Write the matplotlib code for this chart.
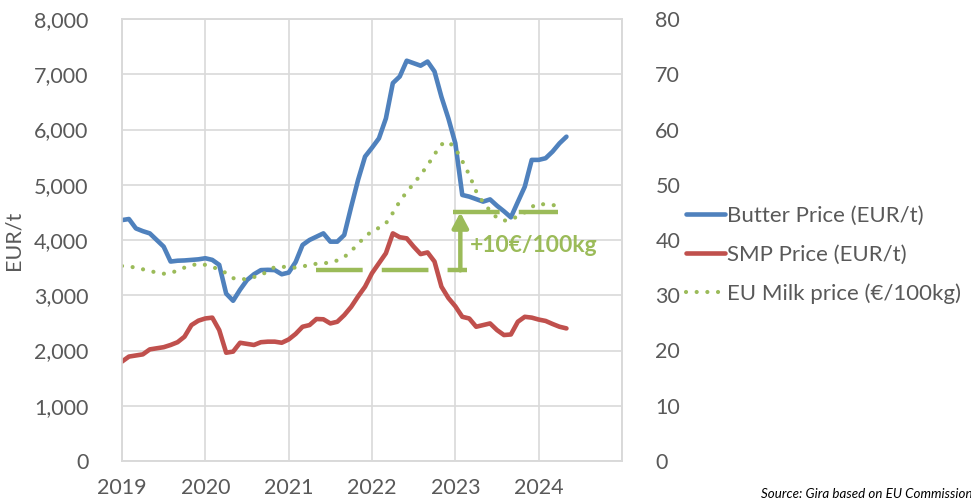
import matplotlib
matplotlib.use("Agg")
import matplotlib.pyplot as plt
import numpy as np

# ---- data (monthly, Jan 2019 onwards) ----
butter = [4360, 4380, 4210, 4160, 4120, 4000, 3880, 3610, 3625, 3630, 3640, 3650,
          3670, 3640, 3550, 3030, 2900, 3100, 3275, 3380, 3455, 3460, 3455, 3380,
          3410, 3600, 3910, 4000, 4060, 4120, 3970, 3970, 4090, 4600, 5090, 5510,
          5670, 5840, 6200, 6840, 6960, 7245, 7200, 7155, 7230, 7050, 6590, 6200,
          5750, 4815, 4785, 4740, 4695, 4735, 4620, 4520, 4410, 4690, 4965, 5450,
          5450, 5480, 5600, 5750, 5870]
smp = [1800, 1890, 1910, 1930, 2020, 2040, 2060, 2100, 2150, 2250, 2460, 2540,
       2580, 2595, 2370, 1960, 1980, 2140, 2120, 2100, 2150, 2160, 2160, 2140,
       2200, 2300, 2430, 2460, 2570, 2565, 2490, 2520, 2640, 2790, 2980, 3155,
       3400, 3580, 3760, 4120, 4050, 4030, 3880, 3745, 3775, 3610, 3155, 2950,
       2800, 2610, 2580, 2430, 2460, 2490, 2370, 2280, 2290, 2520, 2610, 2595,
       2560, 2535, 2480, 2430, 2400]
milk = [35.3, 35.2, 35.0, 34.7, 34.4, 34.1, 33.9, 34.0, 34.5, 35.0, 35.4, 35.7,
        35.5, 35.1, 34.7, 34.0, 33.1, 32.8, 33.0, 33.3, 33.6, 34.4, 35.1, 35.2,
        35.0, 35.0, 35.2, 35.5, 35.7, 35.8, 35.9, 36.3, 36.9, 38.0, 39.3, 40.6,
        41.6, 42.2, 43.0, 44.9, 47.0, 48.7, 50.2, 51.8, 53.5, 55.5, 57.3, 57.8,
        56.6, 54.3, 51.8, 48.8, 46.8, 45.3, 44.0, 43.5, 43.7, 44.3, 45.0, 46.0,
        46.6, 46.4, 46.3, 46.3]
years = [2019, 2020, 2021, 2022, 2023, 2024]
left_ticks = [0, 1000, 2000, 3000, 4000, 5000, 6000, 7000, 8000]
right_ticks = [0, 10, 20, 30, 40, 50, 60, 70, 80]
series_labels = ["Butter Price (EUR/t)", "SMP Price (EUR/t)", "EU Milk price (€/100kg)"]
ref_low, ref_high = 34.5, 45.0          # milk price reference levels (€/100kg)
low_span = (2021.33, 2023.14)           # span of lower reference line (years)
high_span = (2022.97, 2024.23)          # span of upper reference line (years)
arrow_x = 2023.06
annot_text = "+10€/100kg"
source_text = "Source: Gira based on EU Commission"

BLUE, RED, GREEN = "#4F81BD", "#C0504D", "#9BBB59"
GRID, TXT = "#D9D9D9", "#595959"

plt.rcParams['font.family'] = ['Lato', 'DejaVu Sans']

fig = plt.figure(figsize=(9.71, 5.04), dpi=100)
ax = fig.add_axes([122/971, 43/504, 500/971, 442/504])
ax2 = ax.twinx()

xb = 2019 + np.arange(len(butter)) / 12
xs = 2019 + np.arange(len(smp)) / 12
xm = 2019 + np.arange(len(milk)) / 12

lb, = ax.plot(xb, butter, color=BLUE, lw=3.3, solid_joinstyle='round', solid_capstyle='round', zorder=3)
ls, = ax.plot(xs, smp, color=RED, lw=3.3, solid_joinstyle='round', solid_capstyle='round', zorder=3)
lm, = ax2.plot(xm, milk, color=GREEN, lw=3.0, linestyle=(0, (0.01, 2.55)),
               dash_capstyle='round', zorder=2)

ax.set_xlim(2019, 2025)
ax.set_ylim(0, 8000)
ax2.set_ylim(0, 80)
ax.set_xticks(years)
ax.set_xticklabels([str(y) for y in years])
ax.set_yticks(left_ticks)
ax.set_yticklabels([f"{v:,}" for v in left_ticks])
ax2.set_yticks(right_ticks)
ax2.set_yticklabels([str(v) for v in right_ticks])

ax.set_xticks([2025], minor=True)
ax.grid(True, which='both', color=GRID, lw=1.2, zorder=0)
ax.set_axisbelow(True)
for a in (ax, ax2):
    for s in a.spines.values():
        s.set_color(GRID)
        s.set_linewidth(1.2)
ax.tick_params(axis='both', which='both', length=0, labelsize=15.5, colors=TXT)
ax.tick_params(axis='y', pad=24)
ax.tick_params(axis='x', pad=12)
ax2.tick_params(axis='y', length=0, labelsize=15.5, colors=TXT, pad=24)
ax.set_ylabel("EUR/t", fontsize=15.5, color=TXT, labelpad=8)

# annotation: reference levels and arrow
dash = (0, (10.5, 4.3))
ax2.plot(low_span, [ref_low, ref_low], color=GREEN, lw=3.2, linestyle=dash,
         dash_capstyle='butt', zorder=4)
ax2.plot(high_span, [ref_high, ref_high], color=GREEN, lw=3.2, linestyle=dash,
         dash_capstyle='butt', zorder=4)
ax2.annotate('', xy=(arrow_x, ref_high), xytext=(arrow_x, ref_low),
             arrowprops=dict(arrowstyle='-|>,head_length=0.75,head_width=0.4',
                             color=GREEN, lw=3.2, shrinkA=0, shrinkB=0,
                             mutation_scale=12), zorder=4)
ax2.text(arrow_x + 0.11, (ref_low + ref_high) / 2 - 0.8, annot_text, color=GREEN,
         fontsize=16.5, fontweight='bold', ha='left', va='center', zorder=5)

fig.legend([lb, ls, lm], series_labels, loc='center left',
           bbox_to_anchor=(686/971, 1 - 255/504), frameon=False, fontsize=16,
           labelcolor=TXT, handlelength=1.75, handletextpad=0.1, labelspacing=0.85,
           borderaxespad=0, borderpad=0)

fig.text(761/971, 1 - 494/504, source_text, fontsize=9.6, style='italic',
         color='black', ha='left', va='center')

fig.savefig("out.png", dpi=100)
